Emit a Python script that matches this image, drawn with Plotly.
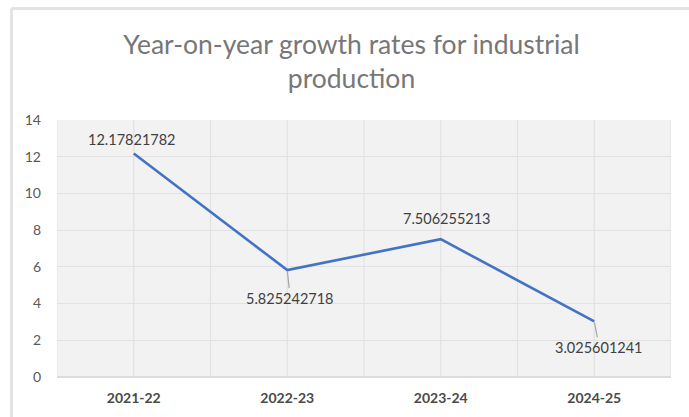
import plotly.graph_objects as go

# Financial years and year-on-year growth of industrial production (%)
years = ["2021-22", "2022-23", "2023-24", "2024-25"]
growth = [12.17821782, 5.825242718, 7.506255213, 3.025601241]
y_ticks = [0, 2, 4, 6, 8, 10, 12, 14]

FONT = "Lato"
LINE_BLUE = "#4472C4"
LABEL_GREY = "#404040"

fig = go.Figure()
fig.add_trace(go.Scatter(
    x=list(range(len(years))), y=growth, mode="lines",
    line=dict(color=LINE_BLUE, width=2.6),
    hoverinfo="skip", showlegend=False,
))

# data labels: two above the line, two below with short leader lines
label_style = [
    dict(showarrow=False, yanchor="middle", xshift=-2, yshift=14),
    dict(showarrow=True, ax=3, ay=28),
    dict(showarrow=False, yanchor="middle", xshift=6, yshift=21),
    dict(showarrow=True, ax=5, ay=26),
]
for i, (v, st) in enumerate(zip(growth, label_style)):
    ann = dict(x=i, y=v, xref="x", yref="y", text=str(v),
               font=dict(family=FONT, size=14.5, color=LABEL_GREY))
    if st.get("showarrow"):
        ann.update(arrowhead=0, arrowwidth=1.2, arrowcolor="#a6a6a6",
                   standoff=1, startstandoff=0)
    ann.update(st)
    fig.add_annotation(**ann)

# vertical gridlines at category centres and band edges
for k in range(len(years) * 2 + 1):
    fig.add_shape(type="line", xref="x", yref="paper",
                  x0=-0.5 + k * 0.5, x1=-0.5 + k * 0.5, y0=0, y1=1,
                  line=dict(color="#e2e2e2", width=1.2), layer="below")

# chart frame (left and top edges)
L, T = 57, 120
W, H = 614, 257
fx = lambda px: (px - L) / W
fy = lambda py: (T + H - py) / H
fig.add_shape(type="line", xref="paper", yref="paper",
              x0=fx(11.5), x1=fx(11.5), y0=fy(8.5), y1=fy(420),
              line=dict(color="#e3e3e3", width=3))
fig.add_shape(type="line", xref="paper", yref="paper",
              x0=fx(11.5), x1=fx(692), y0=fy(8.5), y1=fy(8.5),
              line=dict(color="#e3e3e3", width=3))

fig.update_layout(
    width=689, height=417,
    margin=dict(l=L, r=689 - L - W, t=T, b=417 - T - H),
    paper_bgcolor="white", plot_bgcolor="#f2f2f2",
    title=dict(
        text="Year-on-year growth rates for industrial<br>production",
        font=dict(family=FONT, size=26.5, color="#777777"),
        x=351.5 / 689, xanchor="center", xref="container",
        y=1 - 54 / 417, yanchor="middle", yref="container",
    ),
    xaxis=dict(
        range=[-0.5, 3.5], tickmode="array",
        tickvals=list(range(len(years))), ticktext=[f"<b>{y}</b>" for y in years],
        showgrid=False, zeroline=False, showline=False, ticks="",
        tickfont=dict(family=FONT, size=14, color="#4a4a4a"), ticklabelstandoff=11,
    ),
    yaxis=dict(
        range=[0, 14], tickmode="array", tickvals=y_ticks,
        showgrid=True, gridcolor="#e2e2e2", gridwidth=1.2,
        zeroline=True, zerolinecolor="#dcdcdc", zerolinewidth=1.5,
        showline=False, ticks="",
        tickfont=dict(family=FONT, size=14, color="#595959"), ticklabelstandoff=15,
    ),
)

fig.write_html("out.html")
